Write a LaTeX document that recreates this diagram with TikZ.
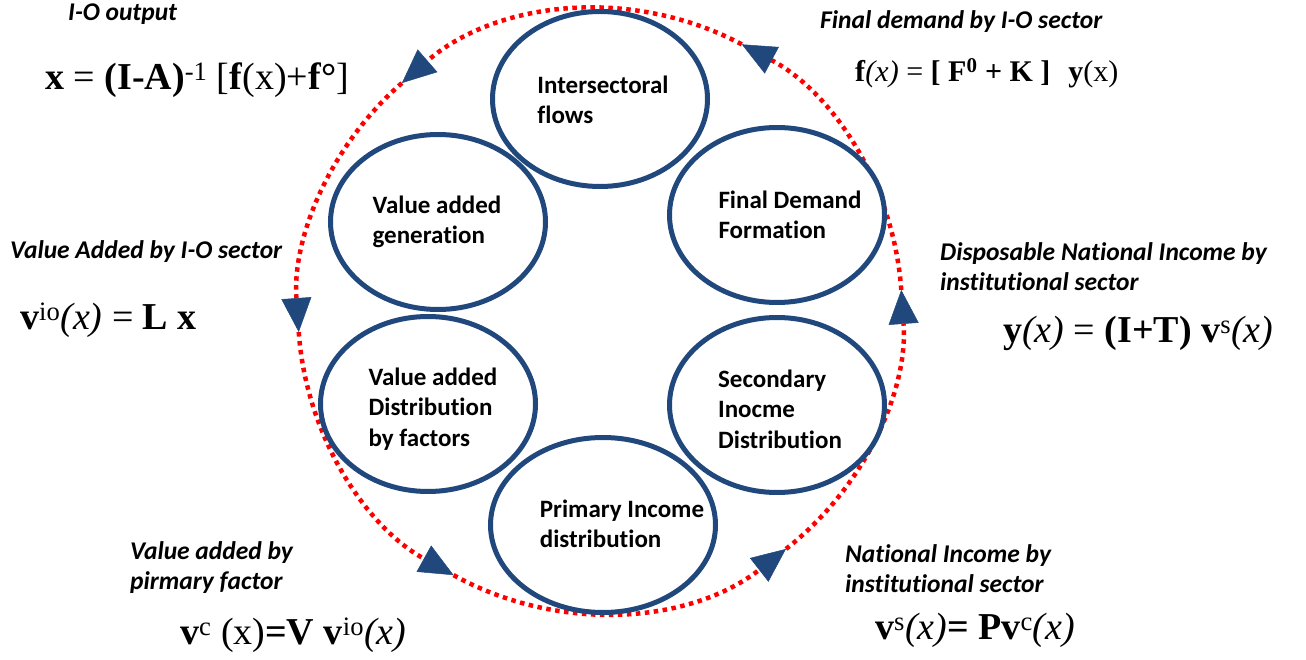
\documentclass[tikz,border=0pt]{standalone}
\usepackage{fontspec}
\setmainfont{Liberation Serif}
\newfontfamily\carlito[Ligatures=NoCommon]{Carlito}
\usetikzlibrary{shapes.geometric,arrows.meta,calc}
\definecolor{ringred}{RGB}{255,0,0}
\definecolor{stageblue}{RGB}{33,72,124}
\begin{document}
\begin{tikzpicture}[x=1pt,y=1pt,
  stage/.style={ellipse,draw=stageblue,line width=5pt,fill=white,
    minimum width=215pt,minimum height=175pt,inner sep=0pt},
  stagetext/.style={font=\carlito\bfseries\fontsize{25}{30.5}\selectfont,
    align=left,inner sep=0pt},
  caption/.style={font=\carlito\bfseries\itshape\fontsize{25.5}{30}\selectfont,
    align=left,anchor=west,inner sep=0pt},
  formula/.style={font=\fontsize{38}{42}\selectfont,anchor=west,inner sep=0pt},
  ring/.style={draw=ringred,line width=4.5pt,dash pattern=on 4.5pt off 4.5pt,
    -{Triangle[length=34pt,width=30pt,line width=0.5pt,color=stageblue]}}
]
\useasboundingbox (0,0) rectangle (1306,659);

% circular flow: one arc per stage transition, counter-clockwise
\coordinate (C) at (600,348);
\coordinate (tR)  at ($(C)+(4:302)$);
\coordinate (tTR) at ($(C)+(62:302)$);
\coordinate (tTL) at ($(C)+(131:302)$);
\coordinate (tL)  at ($(C)+(184:302)$);
\coordinate (tBL) at ($(C)+(241:302)$);
\coordinate (tBR) at ($(C)+(308:302)$);
\draw[ring] (tR)  arc[start angle=4,   end angle=62,  radius=302];
\draw[ring] (tTR) arc[start angle=62,  end angle=131, radius=302];
\draw[ring] (tTL) arc[start angle=131, end angle=184, radius=302];
\draw[ring] (tL)  arc[start angle=184, end angle=241, radius=302];
\draw[ring] (tBL) arc[start angle=241, end angle=308, radius=302];
\draw[ring] (tBR) arc[start angle=308, end angle=364, radius=302];

% stages of the accounting cycle
\node[stage] (inter)  at (600,560) {};
\node[stage] (vagen)  at (438,437) {};
\node[stage] (fdf)    at (777,444) {};
\node[stage] (vadist) at (428,255) {};
\node[stage] (sec)    at (777,254) {};
\node[stage,minimum width=225pt] (prim) at (603,134) {};

\node[stagetext] (inter-t)  at (603,559) {Intersectoral\\flows};
\node[stagetext] (vagen-t)  at (437,437) {Value added\\generation};
\node[stagetext] (fdf-t)    at (790,444) {Final Demand\\Formation};
\node[stagetext] (vadist-t) at (433,250) {Value added\\Distribution\\by factors};
\node[stagetext] (sec-t)    at (780,250) {Secondary\\Inocme\\Distribution};
\node[stagetext] (prim-t)   at (622,135) {Primary Income\\distribution};

% captions and equations
\node[caption] (c1) at (68,645) {I-O output};
\node[formula] (f1) at (45,579) {\textbf{x} = \textbf{(I-A)}\textsuperscript{-1} [\textbf{f}(x)+\textbf{f°}]};

\node[caption] (c2) at (820,637) {Final demand by I-O sector};
\node[formula,font=\fontsize{30}{33}\selectfont] (f2) at (855,586)
  {\textbf{f}\textit{(x)} = \textbf{[ F\textsuperscript{0} + K ]}\hspace{0.6em}\textbf{y}(x)};

\node[caption] (c3) at (10,407) {Value Added by I-O sector};
\node[formula] (f3) at (20,339) {\textbf{v}\textsuperscript{io}\textit{(x)} = \textbf{L x}};

\node[caption] (c4) at (940,392) {Disposable National Income by\\institutional sector};
\node[formula] (f4) at (1003,326) {\textbf{y}\textit{(x)} = \textbf{(I+T)} \textbf{v}\textsuperscript{s}\textit{(x)}};

\node[caption] (c5) at (130,91) {Value added by\\pirmary factor};
\node[formula] (f5) at (180,24) {\textbf{v}\textsuperscript{c} (x)\textbf{=V} \textbf{v}\textsuperscript{io}\textit{(x)}};

\node[caption] (c6) at (845,90) {National Income by\\institutional sector};
\node[formula] (f6) at (875,29) {\textbf{v}\textsuperscript{s}\textit{(x)}\textbf{=} \textbf{Pv}\textsuperscript{c}\textit{(x)}};
\end{tikzpicture}
\end{document}
